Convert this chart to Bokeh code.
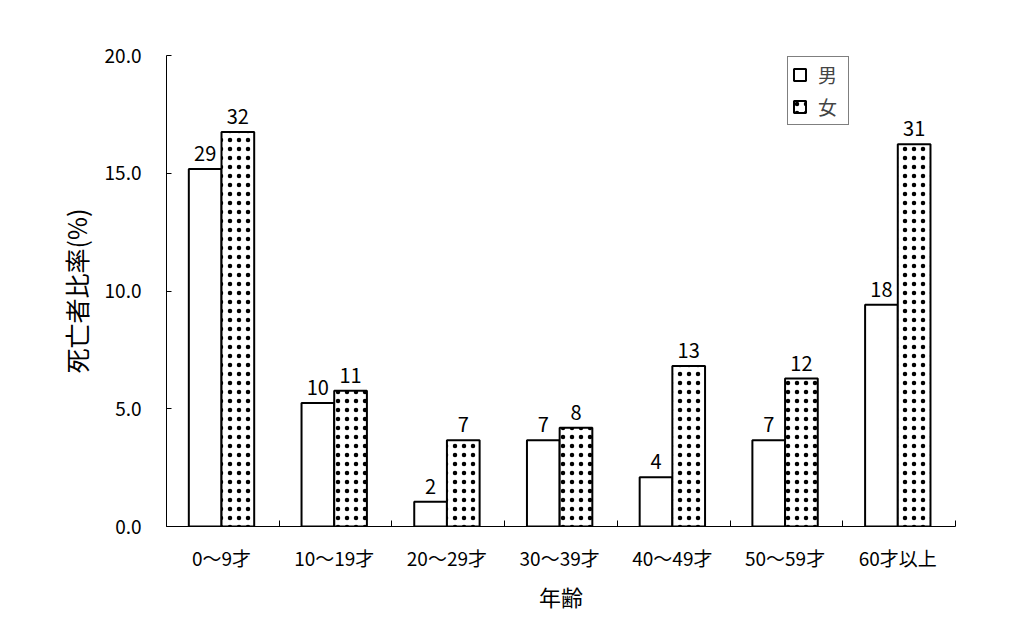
from bokeh.plotting import figure
from bokeh.models import (ColumnDataSource, Range1d, FixedTicker, Legend, LegendItem,
                          NumeralTickFormatter, LabelSet)
from bokeh.core.properties import value
from bokeh.embed import file_html
from bokeh.resources import INLINE

categories = ["0～9才", "10～19才", "20～29才", "30～39才", "40～49才", "50～59才", "60才以上"]
male_pct = [15.18, 5.24, 1.05, 3.66, 2.09, 3.66, 9.42]
female_pct = [16.75, 5.76, 3.66, 4.19, 6.81, 6.28, 16.23]
male_n = [29, 10, 2, 7, 4, 7, 18]
female_n = [32, 11, 7, 8, 13, 12, 31]
y_ticks = [0, 5, 10, 15, 20]

FONT = "Noto Sans CJK JP"
BW = 0.29
C = 0.488
idx = list(range(len(categories)))

src_m = ColumnDataSource(dict(x=[i + C - BW / 2 for i in idx], top=male_pct,
                              lab=[str(v) for v in male_n]))
src_f = ColumnDataSource(dict(x=[i + C + BW / 2 for i in idx], top=female_pct,
                              lab=[str(v) for v in female_n]))

p = figure(width=1006, height=614, output_backend="svg", toolbar_location=None,
           x_range=Range1d(0, len(categories)), y_range=Range1d(0, 20),
           min_border_left=166, min_border_right=51, min_border_top=55, min_border_bottom=88)
p.outline_line_color = None
p.xgrid.visible = False
p.ygrid.visible = False
p.background_fill_color = "white"
p.border_fill_color = "white"

rm = p.vbar(x="x", top="top", width=BW, bottom=0, source=src_m,
            fill_color="white", line_color="black", line_width=2)
rf = p.vbar(x="x", top="top", width=BW, bottom=0, source=src_f,
            fill_color="white", line_color="black", line_width=2,
            hatch_pattern="dot", hatch_color="black", hatch_scale=9, hatch_weight=1.8)

for s in (src_m, src_f):
    p.add_layout(LabelSet(x="x", y="top", text="lab", source=s, y_offset=8,
                          text_align="center", text_baseline="bottom",
                          text_font=value(FONT), text_font_size="20px", text_color="black"))

# x axis
xa = p.xaxis[0]
xa.ticker = FixedTicker(ticks=[i + C for i in idx], minor_ticks=list(range(len(categories) + 1)))
xa.major_label_overrides = {i + C: c for i, c in zip(idx, categories)}
xa.major_tick_line_color = None
xa.minor_tick_in = 6
xa.minor_tick_out = 0
xa.minor_tick_line_color = "black"
xa.axis_line_color = "black"
xa.major_label_standoff = 11
xa.major_label_text_font = FONT
xa.major_label_text_font_size = "19px"
xa.major_label_text_color = "black"
xa.axis_label = "年齢"
xa.axis_label_text_font = FONT
xa.axis_label_text_font_size = "22px"
xa.axis_label_text_font_style = "normal"
xa.axis_label_text_color = "black"
xa.axis_label_standoff = 6

ya = p.yaxis[0]
ya.ticker = FixedTicker(ticks=y_ticks, minor_ticks=[])
ya.formatter = NumeralTickFormatter(format="0.0")
ya.major_tick_in = 5
ya.major_tick_out = 0
ya.minor_tick_line_color = None
ya.major_label_standoff = 25
ya.major_label_text_font = FONT
ya.major_label_text_font_size = "19px"
ya.major_label_text_color = "black"
ya.axis_label = "死亡者比率(%)"
ya.axis_label_text_font = FONT
ya.axis_label_text_font_size = "25px"
ya.axis_label_text_font_style = "normal"
ya.axis_label_text_color = "black"
ya.axis_label_standoff = 8

legend = Legend(items=[LegendItem(label="男", renderers=[rm]),
                       LegendItem(label="女", renderers=[rf])],
                location=(621, 401))
legend.label_text_font = FONT
legend.label_text_font_size = "19px"
legend.label_height = 20
legend.label_width = 26
legend.glyph_width = 15
legend.glyph_height = 15
legend.spacing = 5
legend.padding = 4
legend.margin = 0
legend.label_standoff = 11
legend.border_line_color = "black"
legend.border_line_width = 1
legend.background_fill_color = "white"
p.add_layout(legend)

open("out.html", "w").write(file_html(p, INLINE))
